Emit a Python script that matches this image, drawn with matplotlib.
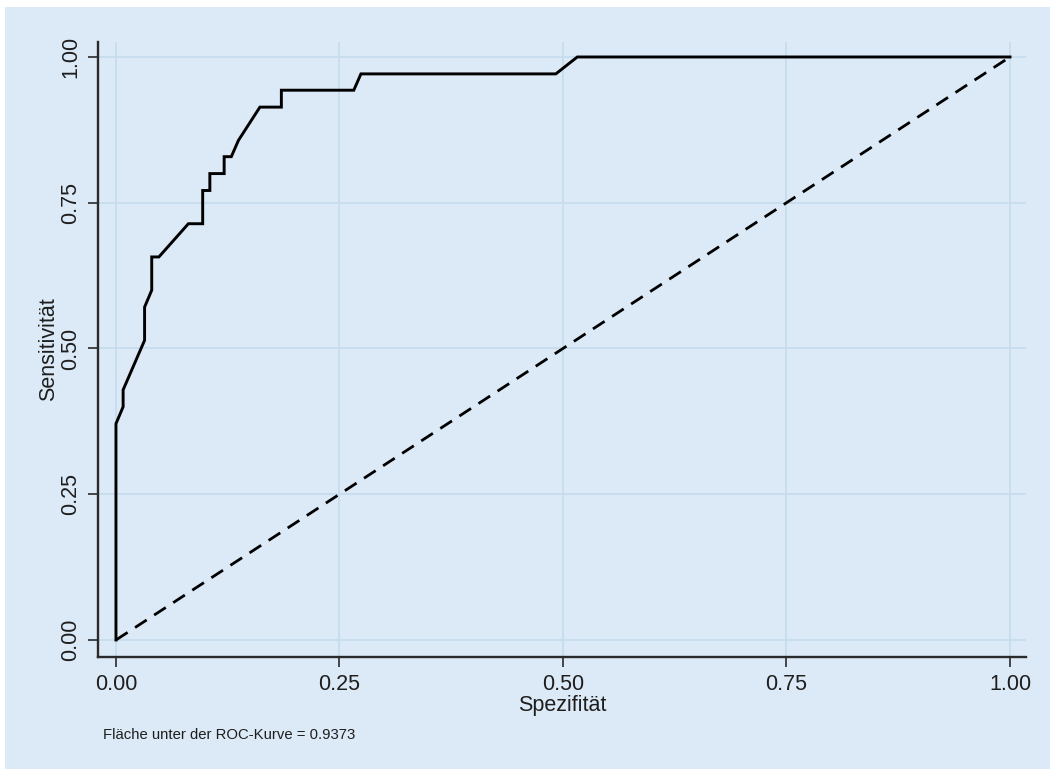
import matplotlib
matplotlib.use("Agg")
import matplotlib.pyplot as plt
from matplotlib.patches import Rectangle

# ROC curve vertices (1 - specificity, sensitivity)
fpr = [0.0, 0.0, 0.008, 0.008, 0.032, 0.032, 0.040, 0.040, 0.048, 0.081, 0.097,
       0.097, 0.105, 0.105, 0.121, 0.121, 0.129, 0.137, 0.161, 0.185, 0.185,
       0.266, 0.274, 0.492, 0.516, 1.0]
tpr = [0.0, 0.371, 0.400, 0.429, 0.514, 0.571, 0.600, 0.657, 0.657, 0.714, 0.714,
       0.771, 0.771, 0.800, 0.800, 0.829, 0.829, 0.857, 0.914, 0.914, 0.943,
       0.943, 0.971, 0.971, 1.0, 1.0]
ref_x = [0.0, 1.0]
ref_y = [0.0, 1.0]
ticks = [0.0, 0.25, 0.5, 0.75, 1.0]
tick_labels = ["0.00", "0.25", "0.50", "0.75", "1.00"]
auc_text = "Fläche unter der ROC-Kurve = 0.9373"

plt.rcParams['font.family'] = ['Liberation Sans', 'DejaVu Sans']

bg = "#dce9f6"
grid_c = "#c6dced"
ink = "#1e1e1e"

W, H = 1050, 769
fig = plt.figure(figsize=(W / 100, H / 100), dpi=100, facecolor="white")
fig.patches.append(Rectangle((5 / W, 0), 1 - 5 / W, (H - 7) / H,
                             transform=fig.transFigure, facecolor=bg,
                             edgecolor="none", zorder=-10))

ax = fig.add_axes([98 / W, 112 / H, (1026 - 98) / W, (727 - 112) / H])
ax.set_facecolor(bg)

ax.set_xlim(-0.0201, 1.0179)
ax.set_ylim(-0.0292, 1.0257)

ax.plot(ref_x, ref_y, color="black", lw=2.0, dashes=(5, 3.2), zorder=3)
ax.plot(fpr, tpr, color="black", lw=2.1, solid_joinstyle="miter", zorder=4)

ax.set_xticks(ticks)
ax.set_xticklabels(tick_labels)
ax.set_yticks(ticks)
ax.set_yticklabels(tick_labels, rotation=90, va="center")

ax.grid(True, color=grid_c, lw=1.3, zorder=0)
ax.set_axisbelow(True)

for s in ["top", "right"]:
    ax.spines[s].set_visible(False)
for s in ["left", "bottom"]:
    ax.spines[s].set_color("#2a2a2a")
    ax.spines[s].set_linewidth(1.7)

ax.tick_params(axis="both", direction="out", length=7.5, width=1.2,
               color="#2a2a2a", labelsize=15.5, labelcolor=ink, pad=4.5)

ax.set_xlabel("Spezifität", fontsize=15.5, color=ink, labelpad=0)
ax.set_ylabel("Sensitivität", fontsize=15.5, color=ink, labelpad=1)

fig.text(103 / W, 1 - 735 / H, auc_text, fontsize=10.7, color=ink,
         ha="left", va="center")

fig.savefig("out.png", dpi=100, facecolor="white")
